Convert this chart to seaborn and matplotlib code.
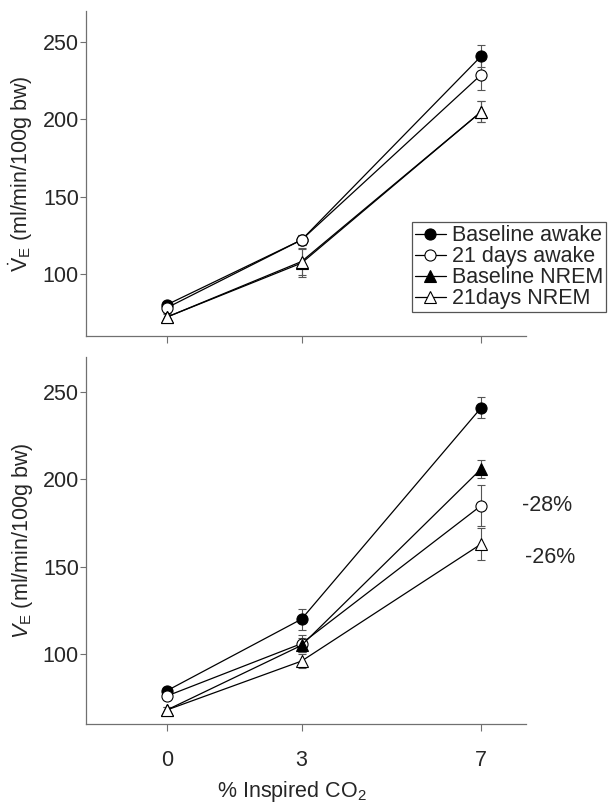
import numpy as np
import pandas as pd
import seaborn as sns
import matplotlib
matplotlib.use("Agg")
import matplotlib.pyplot as plt

# data
co2 = [0, 3, 7]
series = ["Baseline awake", "21 days awake", "Baseline NREM", "21days NREM"]

# top panel
top_mean = {
    "Baseline awake": [80, 122, 241],
    "21 days awake": [78, 122, 229],
    "Baseline NREM": [72, 107, 205],
    "21days NREM": [72, 108, 205],
}
top_err = {
    "Baseline awake": [2, 3, 7],
    "21 days awake": [2, 3, 10],
    "Baseline NREM": [2, 9, 7],
    "21days NREM": [3, 9, 7],
}

# bottom panel
bot_mean = {
    "Baseline awake": [79, 120, 241],
    "21 days awake": [76, 106, 185],
    "Baseline NREM": [68, 105, 206],
    "21days NREM": [68, 96, 163],
}
bot_err = {
    "Baseline awake": [2, 6, 6],
    "21 days awake": [2, 5, 12],
    "Baseline NREM": [2, 4, 5],
    "21days NREM": [2, 4, 9],
}

pct_labels = ["-28%", "-26%"]
pct_pos = [(7.9, 185), (7.98, 155)]

markers = {"Baseline awake": "o", "21 days awake": "o",
           "Baseline NREM": "^", "21days NREM": "^"}
faces = {"Baseline awake": "black", "21 days awake": "white",
         "Baseline NREM": "black", "21days NREM": "white"}

sns.set_style("ticks")
plt.rcParams["font.family"] = ["Liberation Sans", "DejaVu Sans"]
plt.rcParams["mathtext.fontset"] = "custom"
plt.rcParams["mathtext.rm"] = "Liberation Sans"
plt.rcParams["mathtext.it"] = "Liberation Sans:italic"
plt.rcParams["mathtext.bf"] = "Liberation Sans:bold"

fig = plt.figure(figsize=(6.09, 8.05), dpi=100)
ax1 = fig.add_axes([0.141, 0.583, 0.723, 0.403])
ax2 = fig.add_axes([0.141, 0.1006, 0.723, 0.456])


def draw(ax, means, errs):
    for s in series:
        df = pd.DataFrame({"co2": co2, "val": means[s]})
        ax.errorbar(co2, means[s], yerr=errs[s], fmt="none", ecolor="#555555",
                    elinewidth=0.8, capsize=3, capthick=0.8, zorder=2)
        sns.lineplot(data=df, x="co2", y="val", ax=ax, color="black",
                     linewidth=0.9, marker=markers[s], markersize=8,
                     markerfacecolor=faces[s], markeredgecolor="black",
                     markeredgewidth=0.8, label=s, legend=False, zorder=3)
    ax.set_xlim(-1.8, 8.0)
    ax.set_ylim(60, 270)
    ax.set_yticks([100, 150, 200, 250])
    ax.set_xticks(co2)
    ax.set_xlabel("")
    sns.despine(ax=ax)
    for sp in ["left", "bottom"]:
        ax.spines[sp].set_color("#707070")
        ax.spines[sp].set_linewidth(0.9)
    ax.tick_params(axis="both", direction="out", color="#707070",
                   labelsize=15.5, width=0.8)
    ax.tick_params(axis="y", length=4, pad=1)
    ax.tick_params(axis="x", length=5, pad=14)


draw(ax1, top_mean, top_err)
draw(ax2, bot_mean, bot_err)

ax1.set_xticklabels([])
ax2.set_xticklabels([str(c) for c in co2])

ax1.set_ylabel(r"$\dot{\mathrm{V}}_{\mathrm{E}}$ (ml/min/100g bw)", fontsize=15.5)
ax2.set_ylabel(r"$V_{\mathrm{E}}$ (ml/min/100g bw)", fontsize=15.5)
ax1.yaxis.set_label_coords(-0.115, 0.5)
ax2.yaxis.set_label_coords(-0.115, 0.5)

ax2.set_xlabel(r"% Inspired CO$_2$", fontsize=15.5)
ax2.xaxis.set_label_coords(0.468, -0.15)

for lab, (x, y) in zip(pct_labels, pct_pos):
    ax2.text(x, y, lab, fontsize=15.5, ha="left", va="center")

handles, labels = ax1.get_legend_handles_labels()
leg = ax1.legend(handles, labels, loc="upper left",
                 bbox_to_anchor=(0.741, 0.351), borderaxespad=0,
                 frameon=True, fancybox=False, edgecolor="#555555",
                 fontsize=15.5, labelspacing=0.0, handlelength=1.4,
                 handletextpad=0.3, borderpad=0.15, framealpha=1)
leg.get_frame().set_linewidth(0.9)

fig.savefig("out.png", dpi=100)
